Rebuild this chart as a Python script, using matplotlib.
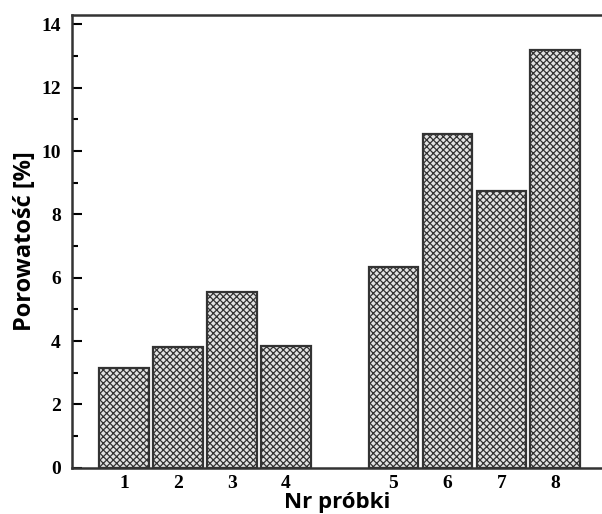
import numpy as np
import matplotlib.pyplot as plt
from matplotlib.ticker import MultipleLocator

# data
samples = ["1", "2", "3", "4", "5", "6", "7", "8"]
positions = [1, 2, 3, 4, 6, 7, 8, 9]
porosity = [3.15, 3.80, 5.56, 3.86, 6.35, 10.53, 8.75, 13.18]

plt.rcParams['hatch.color'] = '#6a6a6a'
plt.rcParams['hatch.linewidth'] = 0.9

fig = plt.figure(figsize=(6.02, 5.14), dpi=100)
ax = fig.add_axes([0.1196, 0.090, 0.8804, 0.881])

ax.bar(positions, porosity, width=0.92, color='#e2e2e2', edgecolor='#333333',
       linewidth=1.6, hatch='xxxxx')

ax.set_xlim(0.03, 9.87)
ax.set_ylim(0, 14.3)

ax.set_xticks(positions)
ax.set_xticklabels(samples)
ax.yaxis.set_major_locator(MultipleLocator(2))
ax.yaxis.set_minor_locator(MultipleLocator(1))

ax.tick_params(axis='y', which='major', direction='in', length=7, width=1.5, pad=8)
ax.tick_params(axis='y', which='minor', direction='in', length=4, width=1.5)
ax.tick_params(axis='x', length=0, pad=5)

for lbl in ax.get_xticklabels() + ax.get_yticklabels():
    lbl.set_fontfamily('Liberation Serif')
    lbl.set_fontweight('bold')
    lbl.set_fontsize(14)

for side in ['left', 'bottom', 'top']:
    ax.spines[side].set_linewidth(1.8)
    ax.spines[side].set_color('#333333')
ax.spines['right'].set_visible(False)

ax.set_ylabel("Porowatość [%]", fontfamily='Open Sans', fontweight='bold',
              fontsize=17, labelpad=3)
ax.set_xlabel("Nr próbki", fontfamily='Open Sans', fontweight='bold',
              fontsize=16, labelpad=0)

fig.savefig("out.png", dpi=100)
